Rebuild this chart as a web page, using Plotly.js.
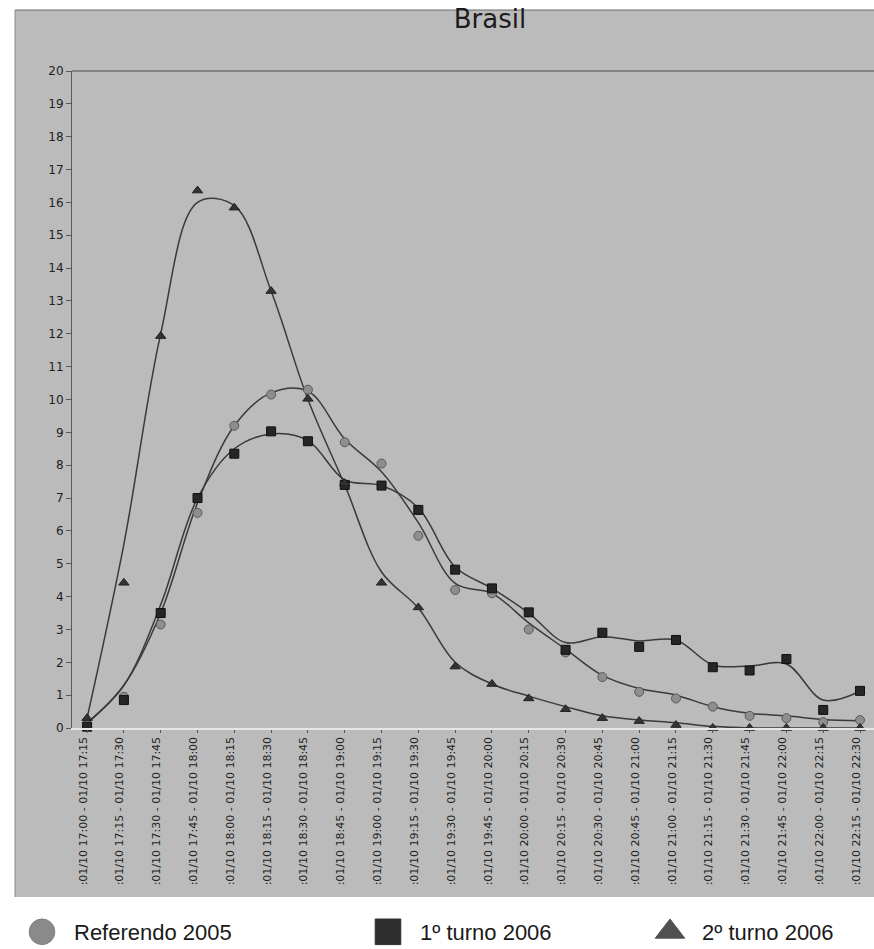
<!DOCTYPE html>
<html>
<head>
<meta charset="utf-8">
<script src="https://cdn.plot.ly/plotly-3.0.1.min.js"></script>
<style>
html,body{margin:0;padding:0;background:#fff;}
#chart{width:874px;height:949px;}
</style>
</head>
<body>
<div id="chart"></div>
<script>
// Category (tick) labels
var categories = [
  ":01/10 17:00 - 01/10 17:15", ":01/10 17:15 - 01/10 17:30", ":01/10 17:30 - 01/10 17:45",
  ":01/10 17:45 - 01/10 18:00", ":01/10 18:00 - 01/10 18:15", ":01/10 18:15 - 01/10 18:30",
  ":01/10 18:30 - 01/10 18:45", ":01/10 18:45 - 01/10 19:00", ":01/10 19:00 - 01/10 19:15",
  ":01/10 19:15 - 01/10 19:30", ":01/10 19:30 - 01/10 19:45", ":01/10 19:45 - 01/10 20:00",
  ":01/10 20:00 - 01/10 20:15", ":01/10 20:15 - 01/10 20:30", ":01/10 20:30 - 01/10 20:45",
  ":01/10 20:45 - 01/10 21:00", ":01/10 21:00 - 01/10 21:15", ":01/10 21:15 - 01/10 21:30",
  ":01/10 21:30 - 01/10 21:45", ":01/10 21:45 - 01/10 22:00", ":01/10 22:00 - 01/10 22:15",
  ":01/10 22:15 - 01/10 22:30"
];
var yTicks = [0,1,2,3,4,5,6,7,8,9,10,11,12,13,14,15,16,17,18,19,20];

// Series names
var seriesNames = ["Referendo 2005", "1º turno 2006", "2º turno 2006"];

// Point (marker) values
var referendo2005 = [0.1, 0.95, 3.15, 6.55, 9.2, 10.15, 10.3, 8.7, 8.05, 5.85, 4.2, 4.1, 3.0, 2.3, 1.55, 1.1, 0.9, 0.65, 0.37, 0.3, 0.18, 0.24];
var turno1_2006   = [0.04, 0.85, 3.5, 7.0, 8.35, 9.03, 8.73, 7.4, 7.38, 6.64, 4.82, 4.25, 3.52, 2.38, 2.9, 2.47, 2.68, 1.85, 1.75, 2.1, 0.55, 1.13];
var turno2_2006   = [0.3, 4.42, 11.93, 16.36, 15.84, 13.3, 10.02, 7.45, 4.42, 3.67, 1.87, 1.34, 0.9, 0.57, 0.3, 0.21, 0.09, 0.0, 0.0, 0.0, 0.0, 0.0];

// Smoothed curve values (as drawn in the chart, read at each category)
var referendo2005Curve = [0.15, 1.3, 3.5, 6.85, 9.2, 10.2, 10.25, 8.8, 7.8, 6.25, 4.4, 4.1, 3.2, 2.4, 1.6, 1.2, 1.0, 0.65, 0.45, 0.37, 0.26, 0.22];
var turno1_2006Curve   = [0.15, 1.3, 3.75, 7.0, 8.5, 8.95, 8.75, 7.55, 7.38, 6.7, 4.9, 4.25, 3.5, 2.6, 2.78, 2.65, 2.68, 1.92, 1.89, 1.95, 0.85, 1.12];
var turno2_2006Curve   = [0.3, 5.6, 12.0, 16.0, 15.9, 13.3, 10.0, 7.4, 4.75, 3.65, 2.0, 1.34, 0.97, 0.65, 0.37, 0.24, 0.16, 0.05, 0.0, 0.0, 0.0, 0.0];

var lineColor = "#3a3a3a";

function curve(y) {
  return {x: categories, y: y, type: "scatter", mode: "lines",
    line: {color: lineColor, width: 1.5, shape: "spline", smoothing: 1},
    showlegend: false, hoverinfo: "skip", cliponaxis: false};
}
function pts(y, sym, fill, outline, size) {
  return {x: categories, y: y, type: "scatter", mode: "markers",
    marker: {symbol: sym, size: size, color: fill, line: {color: outline, width: 1}},
    showlegend: false, cliponaxis: false};
}
function legendItem(name, sym, fill, outline, legendId) {
  return {x: [null], y: [null], type: "scatter", mode: "markers", name: name,
    marker: {symbol: sym, size: 16, color: fill, line: {color: outline, width: 0.6}},
    showlegend: true, legend: legendId};
}

var traces = [
  curve(referendo2005Curve),
  curve(turno1_2006Curve),
  curve(turno2_2006Curve),
  pts(referendo2005, "circle", "#8e8e8e", "#5a5a5a", 9),
  pts(turno1_2006, "square", "#262626", "#111", 9),
  pts(turno2_2006, "triangle-up", "#333", "#222", 9),
  legendItem(seriesNames[0], "circle", "#8a8a8a", "#777", "legend"),
  legendItem(seriesNames[1], "square", "#2e2e2e", "#2e2e2e", "legend2"),
  legendItem(seriesNames[2], "triangle-up", "#505050", "#505050", "legend3")
];

// plot area: left 72, top 71, bottom 728, right 874
var L = 72, T = 71, B = 728, W = 874, H = 949;
var pw = W - L, ph = B - T;
function px2x(px) { return (px - L) / pw; }
function py2y(py) { return (B - py) / ph; }

var legendFont = {family: "Liberation Sans, Arial, sans-serif", size: 22, color: "#1a1a1a"};
function legendBox(xpx) {
  return {xref: "container", yref: "container", x: xpx / W, y: 1 - 932 / H,
    xanchor: "left", yanchor: "middle", orientation: "h", font: legendFont,
    bgcolor: "rgba(0,0,0,0)", itemsizing: "trace", itemwidth: 54};
}

var layout = {
  width: W, height: H,
  margin: {l: L, r: 0, t: T, b: H - B, pad: 0},
  paper_bgcolor: "#ffffff",
  plot_bgcolor: "rgba(0,0,0,0)",
  title: {text: "Brasil", font: {family: "DejaVu Sans, Verdana, sans-serif", size: 26, color: "#1c1c1c"},
    xref: "container", yref: "container", x: 490 / W, y: 1 - 19 / H, xanchor: "center", yanchor: "middle"},
  xaxis: {
    type: "category", range: [-0.41, 21.38], showgrid: false, zeroline: false,
    showline: true, linecolor: "#e6e6e6", linewidth: 1.5,
    ticks: "outside", ticklen: 3, tickcolor: "#555", tickwidth: 1,
    tickangle: -90, ticklabelshift: -4,
    tickfont: {family: "DejaVu Sans, Verdana, sans-serif", size: 11, color: "#1e1e1e"},
    tickvals: categories, ticktext: categories, automargin: false, fixedrange: true
  },
  yaxis: {
    range: [0, 20], showgrid: false, zeroline: false,
    showline: true, linecolor: "#5a5a5a", linewidth: 1,
    ticks: "outside", ticklen: 5, tickcolor: "#5a5a5a",
    tickvals: yTicks, ticktext: yTicks.map(String),
    tickfont: {family: "DejaVu Sans, Verdana, sans-serif", size: 12, color: "#222"},
    automargin: false, fixedrange: true
  },
  shapes: [
    {type: "rect", xref: "paper", yref: "paper", layer: "below",
     x0: px2x(15), x1: 1.02, y0: py2y(897), y1: py2y(10),
     fillcolor: "#bbbbbb", line: {width: 0}},
    {type: "line", xref: "paper", yref: "paper", layer: "below",
     x0: px2x(15), x1: 1.02, y0: py2y(10), y1: py2y(10), line: {color: "#6a6a6a", width: 1}},
    {type: "line", xref: "paper", yref: "paper", layer: "below",
     x0: px2x(15), x1: px2x(15), y0: py2y(897), y1: py2y(10), line: {color: "#8a8a8a", width: 1}},
    {type: "line", xref: "paper", yref: "paper", layer: "below",
     x0: 0, x1: 1.02, y0: 1, y1: 1, line: {color: "#4a4a4a", width: 1.2}}
  ],
  legend: legendBox(10),
  legend2: legendBox(356),
  legend3: legendBox(638),
  showlegend: true
};

Plotly.newPlot("chart", traces, layout, {displayModeBar: false, staticPlot: true}).then(function (gd) {
  // enlarge the legend symbols to the size used in the original chart
  var syms = gd.querySelectorAll(".legendpoints path.scatterpts");
  for (var i = 0; i < syms.length; i++) {
    var t = syms[i].getAttribute("transform") || "";
    syms[i].setAttribute("transform", t + " scale(1.6)");
  }
});
</script>
</body>
</html>
